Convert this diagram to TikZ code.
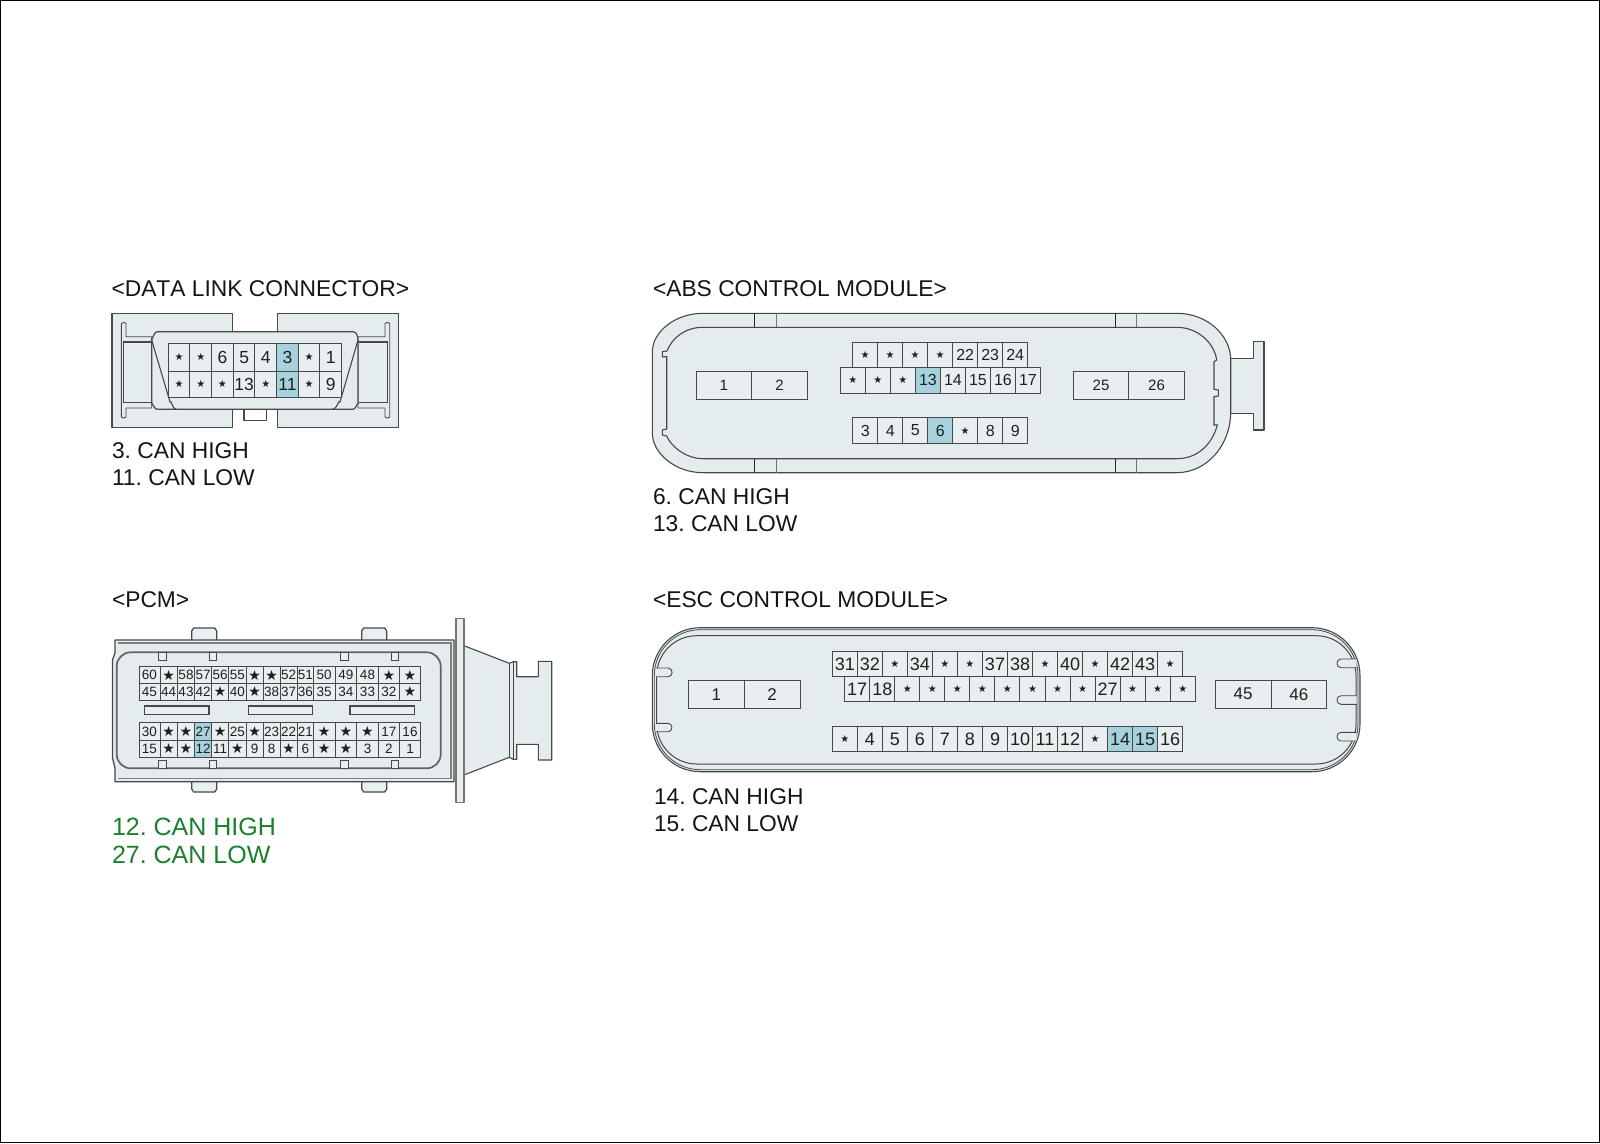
\documentclass[tikz,border=0pt]{standalone}
\usepackage{fontspec}
\setmainfont{Liberation Sans}
\newfontfamily\symfont{DejaVu Sans}
\frenchspacing
\definecolor{bodyc}{HTML}{E4ECEE}
\definecolor{cellc}{HTML}{E9EFF0}
\definecolor{hlc}{HTML}{A5D2DC}
\definecolor{linec}{HTML}{45494A}
\definecolor{greenc}{HTML}{1C7F2E}
\newcommand{\st}{{\symfont\fontsize{\starsz}{\starsz}\selectfont ★}}
\def\starsz{10pt}
\tikzset{
  pincell/.style={draw=linec,line width=1pt,inner sep=0pt,outer sep=0pt,anchor=north west,text=black!88},
  shell/.style={draw=linec,line width=1.1pt,fill=bodyc,line join=round},
  thin line/.style={draw=linec,line width=1.1pt},
  heavy line/.style={draw=linec!85,line width=1.7pt},
  title text/.style={anchor=base west,inner sep=0pt,outer sep=0pt,font=\fontsize{22.8pt}{24pt}\selectfont,text=black!92},
  green text/.style={anchor=base west,inner sep=0pt,outer sep=0pt,font=\fontsize{25pt}{26pt}\selectfont,text=greenc},
}
% prefix, x, y, cell width, cell height, font size, star size, label/highlight list
\newcommand{\pinrow}[8]{%
  \def\starsz{#7}%
  \foreach \t/\hl [count=\i from 0] in {#8}{%
    \pgfmathsetmacro\xx{#2+\i*#4}%
    \ifnum\hl=1 \def\cc{hlc}\else\def\cc{cellc}\fi
    \node[pincell,fill=\cc,minimum width=#4pt,minimum height=#5pt,font=\fontsize{#6}{#6}\selectfont] (#1\i) at (\xx,#3) {\t};
  }%
}
\begin{document}
\begin{tikzpicture}[x=1pt,y=-1pt]
\useasboundingbox (0,0) rectangle (1600,1143);
\draw[black,line width=1.4pt] (0.7,0.7) rectangle (1599.3,1142.3);

%% ---------- DATA LINK CONNECTOR
\node[title text] (t1) at (111.5,296) {\addfontfeature{Kerning=Off}<DATA LINK CONNECTOR>};
\draw[shell] (112,313.3) rectangle (232.7,427.3);
\draw[shell] (277.3,313.3) rectangle (398.7,427.3);
\draw[shell,fill=white] (244,405) -- (244,420.7) -- (266.7,420.7) -- (266.7,405);
\draw[shell,line width=0.9pt] (151.7,336.7) -- (126,336.7) -- (126,323.5) to[bend right=50] (121.3,323.5) -- (121.3,417) to[bend right=50] (126,417) -- (126,408) -- (151.7,408) -- cycle;
\draw[shell,line width=0.9pt] (358,336.7) -- (385,336.7) -- (385,323.5) to[bend left=50] (389.7,323.5) -- (389.7,417) to[bend left=50] (385,417) -- (385,408) -- (358,408) -- cycle;
\draw[thin line] (152,342) -- (123.5,342) -- (123.5,402.7) -- (152,402.7);
\draw[thin line] (358,342) -- (387.5,342) -- (387.5,402.7) -- (358,402.7);
\draw[shell,line width=1.2pt] (157,331.7) -- (353,331.7) to[out=0,in=100] (358,339) -- (358,404) to[out=90,in=0] (353,409.3) -- (157,409.3) to[out=180,in=90] (151.7,404) -- (151.7,339) to[out=-90,in=180] (157,331.7) -- cycle;
\draw[thin line] (151.7,340) -- (170,402) to[out=75,in=180] (176,409.3);
\draw[thin line] (358,340) -- (340,402) to[out=105,in=0] (333,409.3);
\pinrow{da}{168.3}{343.3}{21.67}{27.7}{17.5pt}{10pt}{\st/0,\st/0,6/0,5/0,4/0,3/1,\st/0,1/0}
\pinrow{db}{168.3}{371}{21.67}{26.7}{17.5pt}{10pt}{\st/0,\st/0,\st/0,13/0,\st/0,11/1,\st/0,9/0}
\node[title text] (d1) at (112,458) {3. CAN HIGH};
\node[title text] (d2) at (112,485) {11. CAN LOW};

%% ---------- ABS CONTROL MODULE
\node[title text] (t2) at (653,296) {<ABS CONTROL MODULE>};
\draw[shell] (1230.7,358.3) -- (1253.3,358.3) -- (1253.3,341.3) -- (1264,341.3) -- (1264,430) -- (1253.3,430) -- (1253.3,413.3) -- (1230.7,413.3) -- cycle;
\draw[shell] (703,313.3) -- (1176.7,313.3) .. controls (1207,313.3) and (1230.7,335) .. (1230.7,360) -- (1230.7,412) .. controls (1230.7,445) and (1207,472.7) .. (1176.7,472.7) -- (703,472.7) .. controls (675,472.7) and (652.3,453) .. (652.3,433) -- (652.3,352) .. controls (652.3,332) and (675,313.3) .. (703,313.3) -- cycle;
\draw[thin line] (703,327.3) -- (1176.7,327.3) .. controls (1197,327.3) and (1214,342) .. (1216.7,360) -- (1214,361.7) -- (1214,389.3) -- (1218.3,390) -- (1218.3,396) -- (1214,396.7) -- (1214,425) -- (1217.3,425) .. controls (1212,445) and (1197,458.7) .. (1176.7,458.7) -- (703,458.7) .. controls (685,458.7) and (670,445) .. (666.7,436) -- (662.3,435) -- (662.3,430) -- (666.7,429) -- (666.7,356.7) -- (662.3,356.7) -- (662.3,351.7) -- (667,351) .. controls (672,338) and (685,327.3) .. (703,327.3);
\foreach \ya/\yb in {313.3/327.3,458.7/472.7}{
  \draw[draw=black!85,line width=0.9pt] (754.3,\ya) -- (754.3,\yb) (1115,\ya) -- (1115,\yb);
  \draw[draw=black!55,line width=1.3pt] (776.7,\ya) -- (776.7,\yb) (1136.7,\ya) -- (1136.7,\yb);
}
\pinrow{aa}{696}{371.7}{55.65}{27.6}{15pt}{10pt}{1/0,2/0}
\pinrow{ab}{1073.3}{371.7}{55.5}{27.6}{15pt}{10pt}{25/0,26/0}
\pinrow{ac}{852.7}{342.7}{25}{25}{16pt}{10pt}{\st/0,\st/0,\st/0,\st/0,22/0,23/0,24/0}
\pinrow{ad}{840.4}{367.7}{25}{25.3}{16pt}{10pt}{\st/0,\st/0,\st/0,13/1,14/0,15/0,16/0,17/0}
\pinrow{ae}{852.7}{417.7}{25}{25.6}{16pt}{10pt}{3/0,4/0,5/0,6/1,\st/0,8/0,9/0}
\node[title text] (a1) at (653,504) {6. CAN HIGH};
\node[title text] (a2) at (653,531) {13. CAN LOW};

%% ---------- PCM
\node[title text] (t3) at (112,607) {<PCM>};
\foreach \xa/\xb in {191.7/216.7,361.7/386.7}{
  \draw[shell,fill=cellc,line width=1.2pt] (\xa,642) -- (\xa,631) -- (\xa+2,628) -- (\xb-2,628) -- (\xb,631) -- (\xb,642);
  \draw[shell,fill=cellc,line width=1.2pt] (\xa,778) -- (\xa,789) -- (\xa+2,792) -- (\xb-2,792) -- (\xb,789) -- (\xb,778);
}
% connector tail
\draw[shell] (464,645.7) -- (509.3,663.3) -- (513.3,661.7) -- (516.7,661.7) -- (516.7,676.7) -- (538.3,676.7) -- (538.3,661.3) -- (551.7,661.3) -- (551.7,760) -- (538.3,760) -- (538.3,744.3) -- (516.7,744.3) -- (516.7,759.3) -- (513.3,759.3) -- (509.3,757.3) -- (464,775) -- cycle;
\draw[thin line] (509.3,663.3) -- (509.3,757.3) (513.3,661.7) -- (513.3,759.3);
\draw[shell,line width=1.5pt,fill=cellc,draw=linec!75] (456,618.3) rectangle (464,802.3);
\draw[shell,line width=1.3pt] (115,640) -- (454,640) -- (454,781.7) -- (115,781.7) -- (115,768) -- (112.5,758) -- (112.5,660) -- (115,653) -- cycle;
\draw[thin line,draw=linec!70] (118,643) -- (451,643) -- (451,778.7) -- (118,778.7);
\draw[heavy line,fill=bodyc,rounded corners=14pt] (116.7,652.3) rectangle (440.7,768.3);
\foreach \xa in {158.3,209,340.7,391}{
  \draw[thin line,fill=cellc,line width=0.8pt] (\xa,652.5) rectangle (\xa+7.7,660.7);
  \draw[thin line,fill=cellc,line width=0.8pt] (\xa,760.7) rectangle (\xa+7.7,768);
}
\draw[thin line,fill=cellc] (144.7,706) rectangle (209,714.7);
\draw[thin line,fill=cellc] (248.3,706) rectangle (312.7,714.7);
\draw[thin line,fill=cellc] (350,706) rectangle (414.3,714.7);
\def\starsz{14pt}
\foreach \xa/\xb/\ta/\tb/\tc/\td [count=\c] in {
  139/160/60/45/30/15,
  160/177.3/\st/44/\st/\st,
  177.3/194.7/58/43/\st/\st,
  194.7/211.7/57/42/27/12,
  211.7/228.7/56/\st/\st/11,
  228.7/246/55/40/25/\st,
  246/263.3/\st/\st/\st/9,
  263.3/280/\st/38/23/8,
  280/297.3/52/37/22/\st,
  297.3/313.3/51/36/21/6,
  313.3/335/50/35/\st/\st,
  335/356.7/49/34/\st/\st,
  356.7/378.3/48/33/\st/3,
  378.3/399.3/\st/32/17/2,
  399.3/420.7/\st/\st/16/1}{
  \pgfmathsetmacro\ww{\xb-\xa}
  \ifnum\c=4 \def\cc{hlc}\else\def\cc{cellc}\fi
  \node[pincell,fill=cellc,minimum width=\ww pt,minimum height=16.7pt,font=\fontsize{13.5pt}{14pt}\selectfont] (pa\c) at (\xa,666.7) {\ta};
  \node[pincell,fill=cellc,minimum width=\ww pt,minimum height=16.7pt,font=\fontsize{13.5pt}{14pt}\selectfont] (pb\c) at (\xa,683.3) {\tb};
  \node[pincell,fill=\cc,minimum width=\ww pt,minimum height=17.3pt,font=\fontsize{13.5pt}{14pt}\selectfont] (pc\c) at (\xa,722.7) {\tc};
  \node[pincell,fill=\cc,minimum width=\ww pt,minimum height=17.3pt,font=\fontsize{13.5pt}{14pt}\selectfont] (pd\c) at (\xa,740) {\td};
}
\node[green text] (p1) at (112,835) {12. CAN HIGH};
\node[green text] (p2) at (112,863.5) {27. CAN LOW};

%% ---------- ESC CONTROL MODULE
\node[title text] (t4) at (653,607) {<ESC CONTROL MODULE>};
\draw[shell,rounded corners=48pt] (652.3,627.7) rectangle (1360,771.7);
\draw[thin line,rounded corners=46pt,line width=0.8pt] (654.3,629.7) rectangle (1358,769.7);
\draw[thin line,rounded corners=40pt,line width=1pt] (656.7,635.7) rectangle (1356,764);
\foreach \ya/\yb in {668/676.7,723.3/731.7}{
  \draw[shell,line width=0.9pt] (656,\ya) -- (668,\ya) to[out=0,in=0,looseness=1.6] (668,\yb) -- (656,\yb);
}
\foreach \ya/\yb in {659/667.7,695.7/704.3,732.3/741}{
  \draw[shell,line width=0.9pt] (1356.7,\ya) -- (1341,\ya) to[out=180,in=180,looseness=1.6] (1341,\yb) -- (1356.7,\yb);
}
\pinrow{ea}{688.3}{680.3}{55.85}{27.7}{17pt}{10pt}{1/0,2/0}
\pinrow{eb}{1215.3}{680.3}{55.7}{27.7}{17pt}{10pt}{45/0,46/0}
\pinrow{ec}{832.3}{651.7}{25.03}{25}{18pt}{10pt}{31/0,32/0,\st/0,34/0,\st/0,\st/0,37/0,38/0,\st/0,40/0,\st/0,42/0,43/0,\st/0}
\pinrow{ed}{844.7}{676.7}{25.04}{25}{18pt}{10pt}{17/0,18/0,\st/0,\st/0,\st/0,\st/0,\st/0,\st/0,\st/0,\st/0,27/0,\st/0,\st/0,\st/0}
\pinrow{ee}{832.3}{726.7}{25.03}{25}{18pt}{10pt}{\st/0,4/0,5/0,6/0,7/0,8/0,9/0,10/0,11/0,12/0,\st/0,14/1,15/1,16/0}
\node[title text] (e1) at (654,804) {14. CAN HIGH};
\node[title text] (e2) at (654,831.5) {15. CAN LOW};
\end{tikzpicture}
\end{document}
